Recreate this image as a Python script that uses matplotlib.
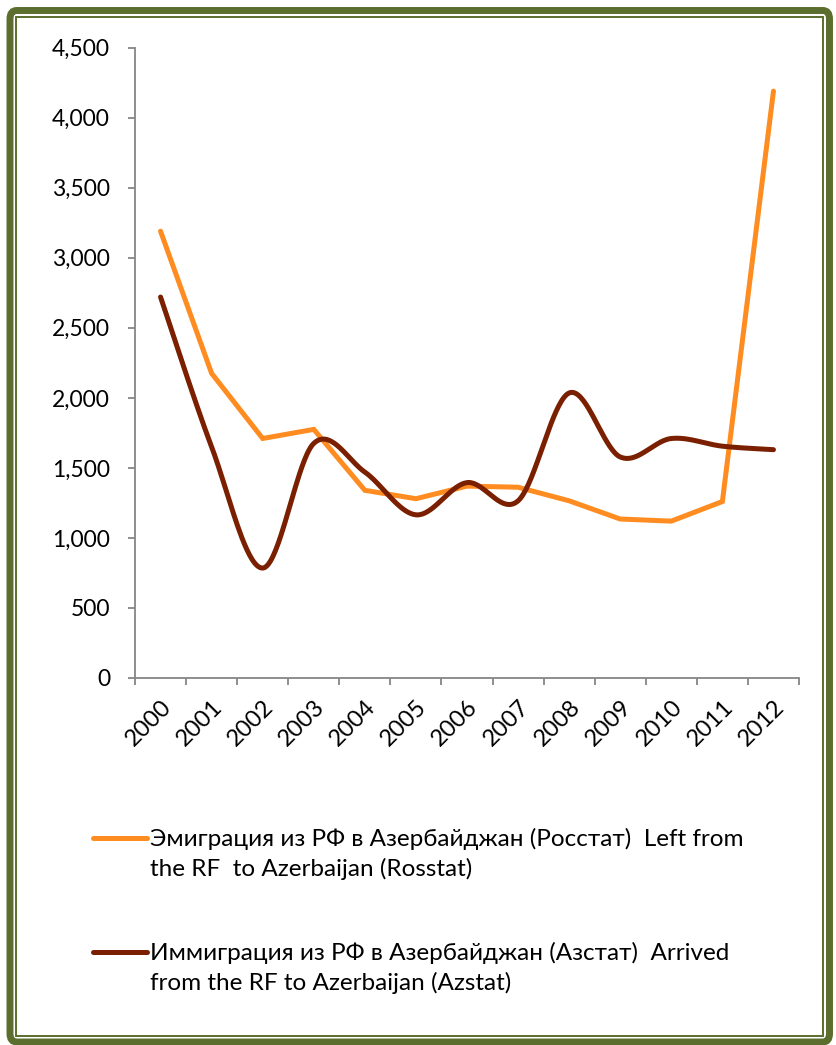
import numpy as np
import matplotlib.pyplot as plt
from matplotlib.lines import Line2D
from matplotlib.patches import FancyBboxPatch, Rectangle

plt.rcParams['font.family'] = ['Lato', 'DejaVu Sans']

years = ['2000', '2001', '2002', '2003', '2004', '2005', '2006',
         '2007', '2008', '2009', '2010', '2011', '2012']
emigration_rosstat = [3190, 2175, 1710, 1775, 1340, 1280, 1370,
                      1362, 1265, 1135, 1120, 1260, 4190]
immigration_azstat = [2720, 1650, 785, 1675, 1470, 1165, 1395,
                      1265, 2035, 1578, 1710, 1655, 1630]
y_ticks = [0, 500, 1000, 1500, 2000, 2500, 3000, 3500, 4000, 4500]

label_em = 'Эмиграция из РФ в Азербайджан (Росстат)  Left from\nthe RF  to Azerbaijan (Rosstat)'
label_im = 'Иммиграция из РФ в Азербайджан (Азстат)  Arrived\nfrom the RF to Azerbaijan (Azstat)'

c_orange = '#ff8c21'
c_brown = '#7a1f00'
c_axis = '#868686'
c_frame = '#5b6e2d'


def smooth(x, y, n=40):
    # Bezier smoothing through the points (like Excel's smoothed line)
    p = np.column_stack([x, y]).astype(float)
    pp = np.vstack([p[0], p, p[-1]])
    out = []
    t = np.linspace(0, 1, n)[:, None]
    for i in range(len(p) - 1):
        p0, p3 = pp[i + 1], pp[i + 2]
        c1 = p0 + (pp[i + 2] - pp[i]) / 6
        c2 = p3 - (pp[i + 3] - pp[i + 1]) / 6
        seg = ((1 - t) ** 3) * p0 + 3 * ((1 - t) ** 2) * t * c1 \
            + 3 * (1 - t) * t ** 2 * c2 + t ** 3 * p3
        out.append(seg if i == 0 else seg[1:])
    s = np.vstack(out)
    return s[:, 0], s[:, 1]


W, H = 836, 1045
fig = plt.figure(figsize=(W / 100, H / 100), dpi=100)
ax = fig.add_axes([135 / W, 1 - 678 / H, (799 - 135) / W, (678 - 47.7) / H])

xpos = np.arange(len(years)) + 0.5
ax.plot(xpos, emigration_rosstat, color=c_orange, lw=3.6,
        solid_joinstyle='miter', solid_capstyle='round')
sx, sy = smooth(xpos, immigration_azstat)
ax.plot(sx, sy, color=c_brown, lw=3.6, solid_capstyle='round')

ax.set_xlim(0, len(years))
ax.set_ylim(0, 4500)
ax.set_yticks(y_ticks)
ax.set_yticklabels([f'{v:,}' for v in y_ticks])
ax.set_xticks(np.arange(len(years) + 1))
ax.set_xticklabels([])
ax.set_xticks(xpos, minor=True)
ax.set_xticklabels(years, minor=True, rotation=45, ha='right',
                   rotation_mode='anchor')

for s in ['top', 'right']:
    ax.spines[s].set_visible(False)
for s in ['left', 'bottom']:
    ax.spines[s].set_color(c_axis)
    ax.spines[s].set_linewidth(1.3)
ax.tick_params(axis='y', length=5, width=1.3, color=c_axis, pad=13,
               labelsize=16.5)
ax.tick_params(axis='x', which='major', length=5, width=1.3, color=c_axis)
ax.tick_params(axis='x', which='minor', length=0, pad=13, labelsize=17)

# legend drawn below the plot
for yy, col, lab in [(838, c_orange, label_em), (952, c_brown, label_im)]:
    fig.add_artist(Line2D([93 / W, 147 / W], [1 - yy / H, 1 - yy / H],
                          color=col, lw=3.6, solid_capstyle='round'))
    fig.text(150 / W, 1 - (yy - 10) / H, lab, fontsize=17.5, va='top',
             ha='left', linespacing=1.42)

# double frame
fig.add_artist(FancyBboxPatch((10 / W, 1 - 1042 / H), (829.5 - 10) / W,
                              (1042 - 10.5) / H,
                              boxstyle='round,pad=0,rounding_size=0.008',
                              fill=False, ec=c_frame, lw=5,
                              transform=fig.transFigure))
fig.add_artist(Rectangle((16 / W, 1 - 1035.5 / H), (822.5 - 16) / W,
                         (1035.5 - 17) / H, fill=False, ec=c_frame, lw=1.4,
                         transform=fig.transFigure))

fig.savefig('out.png', dpi=100)
